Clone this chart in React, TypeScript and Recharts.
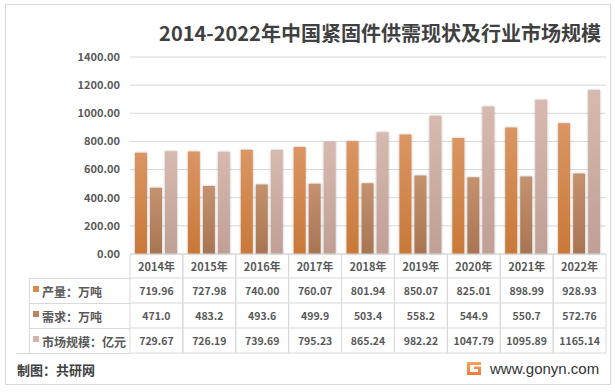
import { BarChart, Bar, XAxis, YAxis, CartesianGrid } from "recharts";

const years = ["2014年", "2015年", "2016年", "2017年", "2018年", "2019年", "2020年", "2021年", "2022年"];
const production = [719.96, 727.98, 740.0, 760.07, 801.94, 850.07, 825.01, 898.99, 928.93];
const productionText = ["719.96", "727.98", "740.00", "760.07", "801.94", "850.07", "825.01", "898.99", "928.93"];
const demand = [471.0, 483.2, 493.6, 499.9, 503.4, 558.2, 544.9, 550.7, 572.76];
const demandText = ["471.0", "483.2", "493.6", "499.9", "503.4", "558.2", "544.9", "550.7", "572.76"];
const market = [729.67, 726.19, 739.69, 795.23, 865.24, 982.22, 1047.79, 1095.89, 1165.14];
const marketText = ["729.67", "726.19", "739.69", "795.23", "865.24", "982.22", "1047.79", "1095.89", "1165.14"];
const yTicks = [0, 200, 400, 600, 800, 1000, 1200, 1400];

const seriesNames = ["产量：万吨", "需求：万吨", "市场规模：亿元"];
const legendColors = ["#D98B4A", "#B98463", "#D2B4AA"];

const data = years.map((year, i) => ({
  year,
  production: production[i],
  demand: demand[i],
  market: market[i],
}));

const FONT = '"Noto Sans CJK SC", "Noto Sans", sans-serif';
const GRID = "#D9D9D9";
const TEXT = "#595959";

const TableTick = (props: any) => {
  const { x, y, payload } = props;
  const i = payload.index;
  const half = 52.9 / 2;
  const rows = [productionText[i], demandText[i], marketText[i]];
  return (
    <g>
      <line x1={x - half} x2={x - half} y1={y} y2={y + 99} stroke={GRID} />
      <line x1={x + half} x2={x + half} y1={y} y2={y + 99} stroke={GRID} />
      {[24, 49, 74, 99].map((dy) => (
        <line key={dy} x1={x - half} x2={x + half} y1={y + dy} y2={y + dy} stroke={GRID} />
      ))}
      <text x={x} y={y + 12} textAnchor="middle" dominantBaseline="central" fontSize={11} fontWeight="bold" fill={TEXT} fontFamily={FONT}>
        {payload.value}
      </text>
      {rows.map((v, r) => (
        <text key={r} x={x} y={y + 36.5 + r * 25} textAnchor="middle" dominantBaseline="central" fontSize={10.5} fontWeight="bold" fill={TEXT} fontFamily={FONT}>
          {v}
        </text>
      ))}
    </g>
  );
};

const App = () => {
  return (
    <div style={{ position: "absolute", left: 0, top: 0, width: 615, height: 392, background: "#fff", fontFamily: FONT }}>
      <svg width={615} height={392} style={{ position: "absolute", left: 0, top: 0 }}>
        <defs>
          <linearGradient id="logoG" x1="0" y1="0" x2="0" y2="1">
            <stop offset="0%" stopColor="#F6A35C" />
            <stop offset="100%" stopColor="#F07A3A" />
          </linearGradient>
        </defs>
        <rect x={5.5} y={4.5} width={605} height={380} fill="#fff" stroke={GRID} />
        <text x={380} y={32} textAnchor="middle" dominantBaseline="central" fontSize={20} fontWeight="bold" fill="#404040" fontFamily={FONT}>
          2014-2022年中国紧固件供需现状及行业市场规模
        </text>
        <line x1={29} x2={130} y1={278.5} y2={278.5} stroke={GRID} />
        <line x1={29} x2={130} y1={303.5} y2={303.5} stroke={GRID} />
        <line x1={29} x2={130} y1={328.5} y2={328.5} stroke={GRID} />
        <line x1={16} x2={130} y1={353.5} y2={353.5} stroke={GRID} />
        <line x1={29.5} x2={29.5} y1={278} y2={353} stroke={GRID} />
        {seriesNames.map((name, r) => (
          <g key={name}>
            <rect x={33} y={286 + r * 25} width={6} height={6} fill={legendColors[r]} />
            <text x={42} y={291 + r * 25} dominantBaseline="central" fontSize={12} fontWeight="bold" fill={TEXT} fontFamily={FONT}>
              {name}
            </text>
          </g>
        ))}
        <text x={17} y={369} dominantBaseline="central" fontSize={13} fontWeight="bold" fill="#404040" fontFamily={FONT}>
          制图：共研网
        </text>
        <path d="M467 362 h14 v3 h-11 v7 h8 v-3 h-4 v-2.5 h7 v8.5 h-14 z" fill="url(#logoG)" />
        <text x={490} y={368} dominantBaseline="central" fontSize={15} fill="#333" fontFamily='"Liberation Sans", Arial, sans-serif'>
          www.gonyn.com
        </text>
      </svg>
      <div style={{ position: "absolute", left: 0, top: 0 }}>
        <BarChart
          width={615}
          height={392}
          data={data}
          margin={{ top: 57, right: 9, bottom: 0, left: 60 }}
          barSize={12}
          barGap={3}
        >
          <defs>
            <linearGradient id="gProd" x1="0" y1="0" x2="0" y2="1">
              <stop offset="0%" stopColor="#DA9664" />
              <stop offset="100%" stopColor="#C97838" />
            </linearGradient>
            <linearGradient id="gDem" x1="0" y1="0" x2="0" y2="1">
              <stop offset="0%" stopColor="#C4926F" />
              <stop offset="100%" stopColor="#A87553" />
            </linearGradient>
            <linearGradient id="gMkt" x1="0" y1="0" x2="0" y2="1">
              <stop offset="0%" stopColor="#D7BAAF" />
              <stop offset="100%" stopColor="#C09F95" />
            </linearGradient>
            <filter id="shadow" x="-30%" y="-10%" width="160%" height="120%">
              <feDropShadow dx="0" dy="0" stdDeviation="1.2" floodColor="#000" floodOpacity="0.3" />
            </filter>
          </defs>
          <CartesianGrid vertical={false} stroke={GRID} />
          <XAxis
            dataKey="year"
            height={138}
            axisLine={{ stroke: GRID }}
            tickLine={false}
            tickSize={0}
            tickMargin={0}
            interval={0}
            tick={<TableTick />}
          />
          <YAxis
            width={70}
            domain={[0, 1400]}
            ticks={yTicks}
            axisLine={false}
            tickLine={false}
            tickSize={0}
            tickMargin={10}
            tickFormatter={(v: number) => v.toFixed(2)}
            tick={{ fill: TEXT, fontSize: 11, fontWeight: "bold", fontFamily: FONT }}
          />
          <Bar dataKey="production" fill="url(#gProd)" filter="url(#shadow)" isAnimationActive={false} />
          <Bar dataKey="demand" fill="url(#gDem)" filter="url(#shadow)" isAnimationActive={false} />
          <Bar dataKey="market" fill="url(#gMkt)" filter="url(#shadow)" isAnimationActive={false} />
        </BarChart>
      </div>
    </div>
  );
};

export default App;
